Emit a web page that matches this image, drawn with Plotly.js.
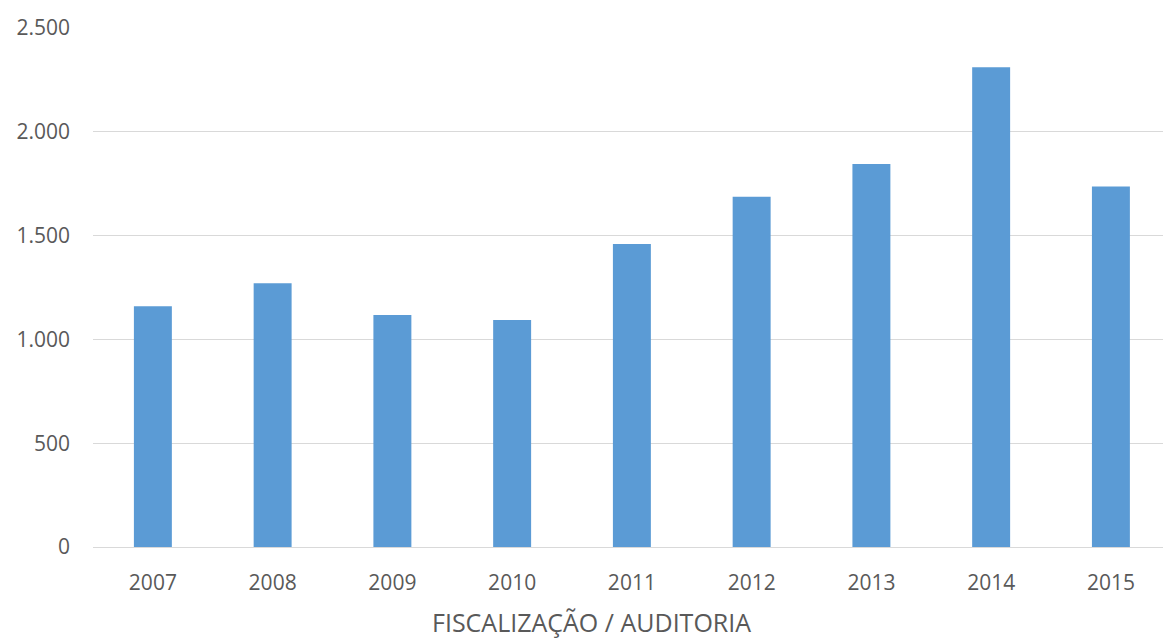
<!DOCTYPE html>
<html>
<head>
<meta charset="utf-8">
<script src="https://cdn.plot.ly/plotly-3.0.1.min.js"></script>
<style>html,body{margin:0;padding:0;background:#fff;}#chart{width:1163px;height:641px;}</style>
</head>
<body>
<div id="chart"></div>
<script>
const years = ['2007','2008','2009','2010','2011','2012','2013','2014','2015'];
const values = [1160, 1270, 1118, 1093, 1460, 1687, 1845, 2311, 1736];
const yTicks = [0, 500, 1000, 1500, 2000, 2500];
const xTitle = 'FISCALIZAÇÃO / AUDITORIA';

const trace = {
  type: 'bar',
  x: years,
  y: values,
  marker: {color: '#5b9bd5'},
  hoverinfo: 'x+y'
};

const layout = {
  width: 1163,
  height: 641,
  margin: {l: 93, r: 0, t: 28, b: 94},
  paper_bgcolor: '#ffffff',
  plot_bgcolor: '#ffffff',
  separators: ',.',
  bargap: 0.683,
  showlegend: false,
  font: {family: 'Open Sans, sans-serif', color: '#595959'},
  xaxis: {
    type: 'category',
    range: [-0.5, 8.435],
    showgrid: false,
    showline: false,
    zeroline: false,
    ticks: '',
    ticklabelstandoff: 21,
    tickfont: {size: 21, color: '#595959'}
  },
  yaxis: {
    range: [0, 2500],
    tickvals: yTicks,
    tickformat: ',d',
    showgrid: true,
    gridcolor: '#d9d9d9',
    gridwidth: 1,
    zeroline: true,
    zerolinecolor: '#d9d9d9',
    zerolinewidth: 1,
    showline: false,
    ticks: '',
    ticklabelstandoff: 22,
    tickfont: {size: 21, color: '#595959'}
  },
  annotations: [{
    text: xTitle,
    xref: 'paper', yref: 'paper',
    x: (591 - 93) / (1163 - 93),
    y: -(622 - 547) / 519,
    xanchor: 'center', yanchor: 'middle',
    showarrow: false,
    font: {size: 25, color: '#595959'}
  }]
};

Plotly.newPlot('chart', [trace], layout, {staticPlot: true, displayModeBar: false});
</script>
</body>
</html>
